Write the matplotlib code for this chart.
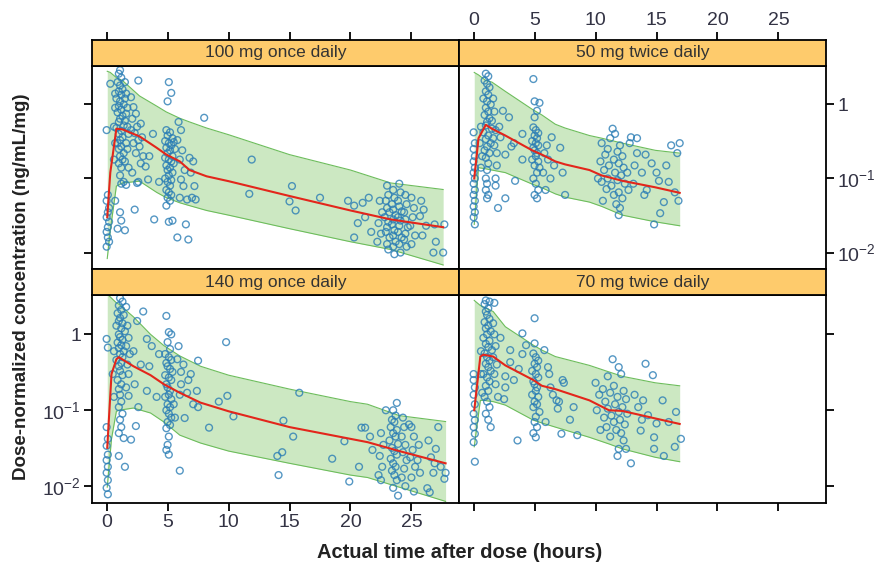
import numpy as np
import matplotlib
matplotlib.use('Agg')
import matplotlib.pyplot as plt
from matplotlib.ticker import NullLocator

plt.rcParams['font.family'] = ['Liberation Sans', 'DejaVu Sans']
plt.rcParams['mathtext.fontset'] = 'custom'
plt.rcParams['mathtext.rm'] = 'Liberation Sans'
plt.rcParams['mathtext.it'] = 'Liberation Sans:italic'
plt.rcParams['mathtext.bf'] = 'Liberation Sans:bold'

panel_titles = ['100 mg once daily', '50 mg twice daily',
                '140 mg once daily', '70 mg twice daily']
x_ticks = [0, 5, 10, 15, 20, 25]
y_ticks = [0.01, 0.1, 1]
y_tick_labels = [r'$10^{-2}$', r'$10^{-1}$', '1']

# prediction band (5th / 50th / 95th percentile)
band_t_100qd = [0.05, 0.3, 0.8, 1.3, 2.7, 4.1, 4.9, 6.0, 6.8, 8.2, 10, 15, 20, 23.3, 27.6]
med_100qd = [0.03, 0.12, 0.47, 0.46, 0.37, 0.26, 0.21, 0.17, 0.13, 0.107, 0.092, 0.058, 0.037, 0.028, 0.022]
hi_100qd = [2.8, 2.7, 2.3, 2.1, 1.3, 0.95, 0.79, 0.65, 0.58, 0.48, 0.39, 0.21, 0.13, 0.087, 0.071]
lo_100qd = [0.0083, 0.02, 0.079, 0.087, 0.092, 0.065, 0.055, 0.047, 0.043, 0.037, 0.032, 0.021, 0.014, 0.011, 0.0068]

band_t_50bid = [0.05, 0.4, 1.0, 1.5, 2.6, 4.8, 5.6, 6.7, 7.5, 9.5, 10.5, 12.2, 14.9, 16.9]
med_50bid = [0.10, 0.35, 0.53, 0.47, 0.38, 0.24, 0.21, 0.17, 0.155, 0.13, 0.11, 0.093, 0.076, 0.064]
hi_50bid = [2.7, 2.5, 2.1, 2.0, 1.5, 0.86, 0.72, 0.54, 0.48, 0.38, 0.35, 0.30, 0.24, 0.22]
lo_50bid = [0.024, 0.14, 0.135, 0.13, 0.12, 0.084, 0.075, 0.062, 0.056, 0.048, 0.042, 0.032, 0.026, 0.023]

band_t_140qd = [0.05, 0.4, 0.8, 1.0, 2.2, 3.6, 4.7, 6.0, 7.7, 10, 15, 20, 21.4, 24, 27.8]
med_140qd = [0.032, 0.3, 0.47, 0.50, 0.38, 0.29, 0.22, 0.17, 0.126, 0.097, 0.060, 0.042, 0.038, 0.029, 0.020]
hi_140qd = [3.4, 3.0, 2.6, 2.5, 1.7, 1.0, 0.71, 0.52, 0.38, 0.29, 0.19, 0.13, 0.12, 0.085, 0.071]
lo_140qd = [0.0097, 0.042, 0.097, 0.1, 0.107, 0.092, 0.07, 0.047, 0.037, 0.029, 0.020, 0.014, 0.013, 0.0097, 0.0063]

band_t_70bid = [0.05, 0.55, 0.8, 1.6, 2.6, 4.9, 5.6, 6.7, 9.5, 11.1, 12.2, 14.9, 16.9]
med_70bid = [0.10, 0.51, 0.54, 0.51, 0.39, 0.25, 0.21, 0.19, 0.135, 0.10, 0.098, 0.078, 0.066]
hi_70bid = [2.8, 2.4, 2.3, 2.0, 1.26, 0.72, 0.62, 0.51, 0.39, 0.32, 0.28, 0.23, 0.21]
lo_70bid = [0.033, 0.135, 0.135, 0.13, 0.117, 0.074, 0.068, 0.060, 0.044, 0.036, 0.031, 0.024, 0.021]

# observed (time, concentration) pairs
obs_100qd = np.array([
    (0.0, 0.45), (0.1, 0.06), (0.0, 0.05), (0.2, 0.04), (0.1, 0.035), (0.0, 0.03), (0.2, 0.026),
    (0.1, 0.022), (0.0, 0.019), (0.1, 0.016), (0.2, 0.014), (0.0, 0.012), (0.3, 1.9),
    (0.7, 0.05), (1.1, 0.035), (1.2, 0.027), (0.9, 0.021), (1.5, 0.02), (2.3, 0.038),
    (1.1, 2.9), (1.0, 2.6), (1.2, 2.3), (0.9, 2.0), (1.1, 1.8), (1.3, 1.6), (1.0, 1.5), (1.2, 1.35),
    (0.8, 1.2), (1.1, 1.1), (1.4, 1.0), (1.0, 0.95), (1.2, 0.85), (0.9, 0.78), (1.3, 0.7), (1.1, 0.64),
    (1.0, 0.58), (1.4, 0.52), (0.8, 0.48), (1.2, 0.44), (1.0, 0.4), (1.3, 0.36), (1.1, 0.33), (0.9, 0.3),
    (1.2, 0.27), (1.0, 0.25), (1.4, 0.22), (1.1, 0.2), (1.3, 0.18), (1.0, 0.16), (1.2, 0.14), (1.1, 0.11),
    (1.5, 2.0), (1.6, 1.4), (1.5, 1.2), (1.7, 0.9), (1.6, 0.75), (1.5, 0.6), (1.7, 0.5), (1.8, 0.4),
    (1.6, 0.3), (1.7, 0.25), (1.5, 0.17), (1.8, 0.14), (0.7, 1.4), (0.7, 0.9), (0.6, 0.5), (0.7, 0.3),
    (0.6, 0.18), (1.4, 0.09), (1.2, 0.085), (1.6, 0.082),
    (2.6, 2.1), (2.0, 1.25), (2.2, 0.92), (2.4, 0.75), (2.1, 0.64), (2.8, 0.55), (2.5, 0.5), (2.0, 0.45),
    (2.3, 0.41), (2.9, 0.36), (2.6, 0.33), (2.2, 0.3), (2.7, 0.27), (2.4, 0.22), (3.0, 0.2), (2.8, 0.16),
    (3.2, 0.145), (2.1, 0.12), (2.5, 0.087), (2.6, 0.09), (3.4, 0.097), (3.8, 0.4), (4.3, 0.09),
    (3.9, 0.028), (3.5, 0.2),
    (5.1, 2.0), (5.3, 1.43), (5.0, 1.1), (4.9, 0.45), (5.2, 0.42), (5.0, 0.38), (5.4, 0.35), (4.8, 0.32),
    (5.1, 0.3), (5.3, 0.28), (4.9, 0.26), (5.2, 0.24), (5.0, 0.22), (5.4, 0.2), (4.8, 0.19), (5.1, 0.18),
    (5.3, 0.17), (4.9, 0.15), (5.2, 0.14), (5.0, 0.13), (5.4, 0.12), (5.1, 0.11), (4.8, 0.1), (5.3, 0.095),
    (5.0, 0.09), (5.2, 0.08), (4.9, 0.07), (5.1, 0.065), (5.3, 0.06), (5.0, 0.055), (5.2, 0.05),
    (4.9, 0.043), (5.1, 0.026), (5.4, 0.027), (5.8, 0.016), (6.7, 0.015), (5.5, 0.31), (5.6, 0.25),
    (5.5, 0.16),
    (5.9, 0.58), (6.1, 0.45), (5.8, 0.33), (6.2, 0.24), (6.0, 0.18), (6.4, 0.13), (6.1, 0.097),
    (6.3, 0.079), (6.0, 0.055), (6.6, 0.052), (6.5, 0.024), (6.8, 0.19), (7.1, 0.17), (6.9, 0.12),
    (7.2, 0.079), (7.0, 0.055), (7.3, 0.052),
    (8.0, 0.66), (11.9, 0.18), (11.7, 0.062), (15.2, 0.079), (15.0, 0.049), (15.5, 0.037), (17.5, 0.055),
    (19.8, 0.05), (20.3, 0.043), (20.3, 0.016), (21.0, 0.047), (21.5, 0.055), (21.2, 0.03), (21.7, 0.019),
    (20.6, 0.025),
    (23.0, 0.08), (23.1, 0.06), (22.9, 0.05), (23.0, 0.04), (23.2, 0.035), (22.8, 0.03), (23.1, 0.026),
    (23.0, 0.022), (22.9, 0.019), (23.2, 0.016), (23.0, 0.013), (23.1, 0.011),
    (23.5, 0.07), (23.6, 0.055), (23.4, 0.045), (23.5, 0.038), (23.7, 0.032), (23.5, 0.028), (23.4, 0.024),
    (23.6, 0.02), (23.5, 0.017), (23.7, 0.014), (23.5, 0.012), (23.6, 0.0095),
    (24.0, 0.085), (24.1, 0.065), (23.9, 0.05), (24.0, 0.042), (24.2, 0.036), (23.9, 0.03), (24.1, 0.027),
    (24.0, 0.023), (23.9, 0.019), (24.2, 0.016), (24.0, 0.013), (24.1, 0.01),
    (24.5, 0.06), (24.6, 0.045), (24.4, 0.035), (24.5, 0.028), (24.7, 0.022), (24.5, 0.018), (24.4, 0.015),
    (24.6, 0.012), (22.4, 0.05), (22.6, 0.035), (22.3, 0.025), (22.5, 0.018), (22.2, 0.014),
    (25.0, 0.055), (25.2, 0.04), (25.1, 0.03), (24.9, 0.023), (25.3, 0.017), (25.0, 0.013),
    (25.8, 0.05), (26.0, 0.038), (25.7, 0.031), (26.2, 0.023), (25.9, 0.017),
    (26.9, 0.024), (27.0, 0.014), (26.8, 0.01), (27.7, 0.024), (27.6, 0.01),
])

obs_50bid = np.array([
    (0.0, 0.42), (0.1, 0.3), (0.0, 0.25), (0.1, 0.2), (0.0, 0.17), (0.1, 0.14), (0.0, 0.12), (0.1, 0.1),
    (0.0, 0.085), (0.1, 0.07), (0.0, 0.06), (0.1, 0.05), (0.0, 0.042), (0.1, 0.035), (0.0, 0.03),
    (0.1, 0.024),
    (1.0, 2.6), (1.2, 2.4), (0.9, 2.1), (1.1, 1.9), (1.3, 1.7), (1.0, 1.5), (1.2, 1.35), (0.8, 1.2),
    (1.1, 1.1), (1.4, 1.0), (1.0, 0.9), (1.2, 0.8), (0.9, 0.72), (1.3, 0.65), (1.1, 0.58), (1.0, 0.52),
    (1.5, 0.47), (0.8, 0.42), (1.2, 0.38), (1.0, 0.34), (1.4, 0.3), (1.1, 0.27), (0.9, 0.24), (1.3, 0.22),
    (1.0, 0.19), (1.2, 0.16), (1.1, 0.13), (1.0, 0.1), (1.1, 0.085), (1.0, 0.07), (1.2, 0.06),
    (1.1, 0.054), (1.6, 1.2), (1.7, 0.8), (1.5, 0.6), (1.8, 0.45), (1.6, 0.35), (1.7, 0.28), (1.9, 0.22),
    (0.6, 0.5), (0.5, 0.3), (0.7, 0.2), (0.6, 0.14),
    (2.4, 0.82), (2.9, 0.67), (2.2, 0.36), (3.1, 0.27), (2.6, 0.21), (1.9, 0.15), (1.8, 0.1), (1.8, 0.08),
    (2.6, 0.054), (2.0, 0.04), (4.0, 0.4), (4.0, 0.18), (3.4, 0.093), (3.3, 0.3), (2.1, 0.5),
    (4.9, 2.2), (5.0, 1.1), (5.4, 1.05), (5.2, 0.82), (5.0, 0.67), (4.9, 0.49), (5.1, 0.45), (5.3, 0.41),
    (5.0, 0.38), (5.2, 0.35), (4.8, 0.32), (5.1, 0.3), (5.3, 0.28), (4.9, 0.26), (5.0, 0.24), (5.2, 0.22),
    (5.1, 0.2), (4.8, 0.18), (5.3, 0.17), (5.0, 0.15), (5.2, 0.12), (4.9, 0.1), (5.1, 0.085), (5.3, 0.07),
    (5.0, 0.06), (5.2, 0.054), (5.4, 0.14),
    (6.4, 0.36), (5.8, 0.22), (6.1, 0.18), (5.7, 0.12), (6.3, 0.1), (5.9, 0.07), (7.5, 0.06), (7.1, 0.26),
    (7.3, 0.12), (6.6, 0.15), (6.0, 0.28),
    (11.4, 0.47), (11.6, 0.4), (11.2, 0.35), (10.5, 0.3), (12.0, 0.28), (11.0, 0.25), (11.8, 0.23),
    (10.8, 0.21), (12.2, 0.2), (11.5, 0.18), (10.4, 0.17), (11.9, 0.16), (11.1, 0.15), (12.3, 0.14),
    (10.7, 0.13), (11.6, 0.12), (12.1, 0.11), (11.0, 0.1), (11.8, 0.095), (10.5, 0.09), (12.4, 0.085),
    (11.3, 0.08), (10.9, 0.072), (11.9, 0.065), (11.5, 0.06), (12.2, 0.054), (10.6, 0.05), (11.7, 0.045),
    (12.0, 0.04), (11.9, 0.032), (10.2, 0.1), (12.8, 0.3), (12.6, 0.12), (12.7, 0.07),
    (12.9, 0.36), (13.4, 0.35), (13.4, 0.22), (14.1, 0.21), (14.6, 0.16), (13.8, 0.12), (15.2, 0.093),
    (14.2, 0.07), (15.6, 0.048), (15.3, 0.034), (14.8, 0.024), (16.2, 0.28), (16.9, 0.3), (16.7, 0.22),
    (13.2, 0.15), (15.0, 0.12), (16.0, 0.09), (16.5, 0.065), (16.8, 0.05), (14.0, 0.06), (13.1, 0.085),
    (15.8, 0.15),
])

obs_140qd = np.array([
    (0.0, 0.87), (0.1, 0.67), (0.0, 0.06), (0.1, 0.042), (0.0, 0.034), (0.1, 0.026), (0.0, 0.022),
    (0.1, 0.018), (0.0, 0.015), (0.1, 0.012), (0.0, 0.0095), (0.1, 0.0078),
    (1.1, 3.0), (1.3, 2.7), (1.0, 2.4), (1.6, 2.3), (1.2, 2.1), (0.9, 1.9), (1.4, 1.8), (1.1, 1.65),
    (1.0, 1.5), (1.3, 1.4), (0.8, 1.3), (1.2, 1.2), (1.5, 1.1), (1.0, 1.0), (1.1, 0.92), (1.3, 0.85),
    (0.9, 0.78), (1.2, 0.72), (1.0, 0.66), (1.4, 0.6), (1.1, 0.55), (1.3, 0.5), (0.8, 0.46), (1.2, 0.42),
    (1.0, 0.38), (1.1, 0.33), (1.3, 0.29), (0.9, 0.25), (1.2, 0.22), (1.0, 0.19), (1.1, 0.16), (1.2, 0.13),
    (1.0, 0.11), (1.3, 0.09), (1.1, 0.075), (1.2, 0.06), (1.0, 0.05), (1.4, 0.043), (1.0, 0.025),
    (1.5, 0.018), (2.0, 0.041), (2.4, 0.062), (2.3, 0.22), (1.7, 1.3), (1.8, 0.9), (1.6, 0.7), (1.9, 0.55),
    (1.7, 0.4), (1.8, 0.3), (1.6, 0.2), (0.6, 0.6), (0.5, 0.3), (0.6, 0.15),
    (3.0, 2.0), (3.3, 0.87), (3.7, 0.7), (4.3, 0.55), (3.5, 0.38), (3.3, 0.18), (4.1, 0.15), (2.6, 0.11),
    (1.8, 0.155), (2.8, 0.4), (2.2, 0.6), (2.5, 1.5),
    (4.9, 1.75), (5.1, 1.07), (5.3, 1.0), (5.0, 0.79), (5.2, 0.64), (4.8, 0.55), (5.1, 0.5), (5.3, 0.46),
    (4.9, 0.42), (5.0, 0.38), (5.2, 0.35), (5.4, 0.32), (4.8, 0.29), (5.1, 0.27), (5.3, 0.25), (4.9, 0.22),
    (5.0, 0.2), (5.2, 0.18), (5.1, 0.16), (4.8, 0.15), (5.3, 0.14), (5.0, 0.12), (5.2, 0.11), (4.9, 0.1),
    (5.1, 0.09), (5.3, 0.08), (5.0, 0.07), (5.2, 0.064), (4.9, 0.058), (5.1, 0.045), (5.0, 0.035),
    (4.9, 0.03), (5.1, 0.026), (6.0, 0.016), (5.5, 0.12), (5.6, 0.08),
    (5.9, 0.7), (5.8, 0.47), (6.1, 0.32), (6.9, 0.3), (6.1, 0.22), (6.0, 0.16), (7.1, 0.12), (6.4, 0.079),
    (7.4, 0.18), (7.5, 0.45), (7.5, 0.11), (6.7, 0.25), (6.3, 0.4), (6.6, 0.17),
    (8.4, 0.059), (9.2, 0.13), (9.9, 0.155), (9.8, 0.79), (10.4, 0.083), (14.5, 0.073), (14.4, 0.028),
    (14.0, 0.025), (14.1, 0.014), (15.3, 0.045), (15.8, 0.17), (18.5, 0.023), (19.5, 0.039),
    (19.9, 0.0115), (20.7, 0.018), (20.9, 0.059), (21.2, 0.059),
    (23.8, 0.125), (23.5, 0.1), (23.7, 0.085), (22.9, 0.1), (23.4, 0.075), (23.6, 0.07), (23.3, 0.06),
    (23.8, 0.055), (23.5, 0.05), (23.7, 0.045), (23.2, 0.04), (23.9, 0.036), (23.4, 0.032), (23.6, 0.029),
    (23.8, 0.026), (23.3, 0.023), (23.5, 0.02), (23.7, 0.018), (23.4, 0.016), (23.6, 0.014), (23.8, 0.012),
    (23.5, 0.0095), (23.9, 0.0075), (24.3, 0.08), (24.4, 0.06), (24.2, 0.045), (24.5, 0.035),
    (24.3, 0.028), (24.6, 0.022), (24.4, 0.017), (24.2, 0.013), (24.5, 0.01), (22.5, 0.05), (22.7, 0.035),
    (22.4, 0.025), (22.6, 0.018), (22.3, 0.014), (22.5, 0.012), (21.6, 0.045), (21.8, 0.03), (25.0, 0.06),
    (25.2, 0.045), (25.1, 0.03), (24.9, 0.024), (25.3, 0.018), (25.0, 0.013), (25.2, 0.0085),
    (24.8, 0.065), (25.5, 0.022), (25.7, 0.015), (25.6, 0.035),
    (27.2, 0.06), (26.4, 0.04), (27.0, 0.031), (26.6, 0.024), (27.4, 0.018), (26.8, 0.015),
    (27.7, 0.0125), (26.3, 0.0094), (26.5, 0.0083), (27.8, 0.015), (26.9, 0.02),
])

obs_70bid = np.array([
    (0.0, 0.25), (0.1, 0.2), (0.0, 0.16), (0.1, 0.12), (0.0, 0.09), (0.1, 0.074), (0.0, 0.06),
    (0.1, 0.049), (0.0, 0.038), (0.1, 0.021), (0.0, 0.3),
    (1.0, 2.8), (1.3, 2.7), (1.7, 2.6), (0.9, 2.5), (1.2, 2.2), (1.0, 2.0), (1.1, 1.8), (1.3, 1.6),
    (0.9, 1.45), (1.2, 1.3), (1.0, 1.2), (1.4, 1.1), (1.1, 1.0), (0.8, 0.9), (1.3, 0.82), (1.0, 0.75),
    (1.2, 0.68), (1.5, 0.62), (0.9, 0.56), (1.1, 0.5), (1.3, 0.45), (1.0, 0.41), (1.2, 0.37), (1.4, 0.33),
    (0.8, 0.3), (1.1, 0.27), (1.3, 0.24), (1.0, 0.21), (1.2, 0.18), (0.9, 0.15), (1.1, 0.13), (1.3, 0.11),
    (1.0, 0.09), (1.2, 0.075), (1.4, 0.06), (1.6, 1.4), (1.7, 1.0), (1.8, 0.7), (1.6, 0.5), (1.9, 0.4),
    (1.7, 0.3), (1.8, 0.22), (2.0, 0.15), (0.6, 0.6), (0.6, 0.3), (0.7, 0.17),
    (4.0, 1.03), (4.3, 0.72), (3.0, 0.62), (3.0, 0.43), (3.7, 0.35), (2.6, 0.28), (2.6, 0.2), (2.5, 0.14),
    (3.6, 0.04), (4.0, 0.55), (2.2, 0.9), (3.3, 0.25),
    (5.0, 1.63), (5.0, 0.76), (4.9, 0.56), (5.1, 0.5), (5.3, 0.45), (5.0, 0.41), (5.2, 0.37), (4.8, 0.33),
    (5.1, 0.3), (5.3, 0.27), (4.9, 0.24), (5.0, 0.22), (5.2, 0.2), (5.1, 0.18), (4.8, 0.16), (5.3, 0.15),
    (5.0, 0.13), (5.2, 0.12), (4.9, 0.11), (5.1, 0.082), (5.0, 0.07), (5.2, 0.06), (4.9, 0.05),
    (5.1, 0.044), (5.4, 0.095),
    (5.8, 0.62), (6.1, 0.37), (6.2, 0.3), (7.3, 0.25), (7.4, 0.23), (6.5, 0.16), (6.8, 0.135), (8.2, 0.11),
    (6.9, 0.105), (7.9, 0.075), (7.2, 0.049), (8.5, 0.047), (5.9, 0.07), (6.3, 0.2), (7.0, 0.13),
    (11.4, 0.47), (11.9, 0.37), (11.0, 0.28), (12.1, 0.3), (10.0, 0.23), (11.5, 0.21), (10.6, 0.19),
    (12.3, 0.18), (11.2, 0.17), (10.3, 0.16), (11.8, 0.15), (12.5, 0.14), (10.8, 0.13), (11.6, 0.12),
    (12.2, 0.11), (11.0, 0.105), (10.1, 0.1), (11.9, 0.095), (12.6, 0.09), (11.3, 0.085), (10.7, 0.08),
    (12.0, 0.075), (11.5, 0.07), (12.4, 0.065), (10.9, 0.06), (11.7, 0.055), (12.1, 0.05), (11.2, 0.045),
    (12.3, 0.04), (11.9, 0.031), (12.5, 0.031), (11.8, 0.025), (12.9, 0.02), (10.4, 0.055),
    (14.1, 0.41), (14.7, 0.29), (13.9, 0.135), (15.5, 0.135), (13.5, 0.11), (14.3, 0.086), (15.0, 0.067),
    (13.7, 0.054), (14.8, 0.044), (14.8, 0.031), (16.5, 0.033), (15.6, 0.025), (17.0, 0.042),
    (13.2, 0.16), (16.0, 0.07), (16.6, 0.095), (13.8, 0.075),
])

panels = [
    (band_t_100qd, lo_100qd, med_100qd, hi_100qd, obs_100qd),
    (band_t_50bid, lo_50bid, med_50bid, hi_50bid, obs_50bid),
    (band_t_140qd, lo_140qd, med_140qd, hi_140qd, obs_140qd),
    (band_t_70bid, lo_70bid, med_70bid, hi_70bid, obs_70bid),
]

W, H = 878, 572
fig = plt.figure(figsize=(W / 100, H / 100), dpi=100)

# pixel layout: columns and rows (strip top, panel top, panel bottom)
cols = [(92, 459), (459, 826)]
rows = [(40, 66, 269), (269, 295, 503)]

tick_col = '#333344'
for i, (bt, lo, med, hi, obs) in enumerate(panels):
    r, c = divmod(i, 2)
    x0, x1 = cols[c]
    s0, p0, p1 = rows[r]
    ax = fig.add_axes([x0 / W, 1 - p1 / H, (x1 - x0) / W, (p1 - p0) / H])
    sax = fig.add_axes([x0 / W, 1 - p0 / H, (x1 - x0) / W, (p0 - s0) / H])

    ax.fill_between(bt, lo, hi, color='#cce8c2', lw=0, zorder=1)
    ax.plot(bt, lo, color='#6dbd5c', lw=0.8, zorder=1.5)
    ax.plot(bt, hi, color='#6dbd5c', lw=0.8, zorder=1.5)
    ax.scatter(obs[:, 0], obs[:, 1], s=24, facecolors='none', edgecolors='#2a7db5',
               linewidths=1.0, alpha=0.8, zorder=2)
    ax.plot(bt, med, color='#e3261b', lw=1.5, zorder=3)

    ax.set_yscale('log')
    ax.set_ylim(0.006, 3.3)
    ax.set_xlim(-1.2, 28.9)
    ax.set_xticks(x_ticks)
    ax.set_yticks(y_ticks)
    ax.set_yticklabels(y_tick_labels)
    ax.yaxis.set_minor_locator(NullLocator())
    ax.tick_params(axis='both', direction='out', length=6, width=1.3, labelsize=14,
                   colors='black', labelcolor=tick_col, pad=2)
    # lattice style: ticks only on outer sides, labels alternate
    ax.tick_params(axis='x', bottom=(r == 1), top=False, labelbottom=(r == 1 and c == 0), labeltop=False)
    ax.tick_params(axis='y', left=(c == 0), right=(c == 1),
                   labelleft=(c == 0 and r == 1), labelright=(c == 1 and r == 0))
    for sp in ax.spines.values():
        sp.set_linewidth(1.3)

    sax.set_facecolor('#fecb6c')
    sax.set_xlim(-1.2, 28.9)
    sax.set_yticks([])
    sax.set_xticks(x_ticks)
    sax.tick_params(axis='x', direction='out', length=6, width=1.3, labelsize=14,
                    labelcolor=tick_col, pad=2, bottom=False, labelbottom=False,
                    top=(r == 0), labeltop=(r == 0 and c == 1))
    for sp in sax.spines.values():
        sp.set_linewidth(1.3)
    sax.text(0.5, 0.5, panel_titles[i], transform=sax.transAxes, ha='center', va='center',
             fontsize=12.5, color='#333333')

fig.text(0.024, 1 - 287 / H, 'Dose-normalized concentration (ng/mL/mg)', rotation=90,
         ha='center', va='center', fontsize=13.5, fontweight='bold', color='#222222')
fig.text(460 / W, 1 - 553 / H, 'Actual time after dose (hours)', ha='center', va='center',
         fontsize=14.5, fontweight='bold', color='#222222')

fig.savefig('out.png', dpi=100)
